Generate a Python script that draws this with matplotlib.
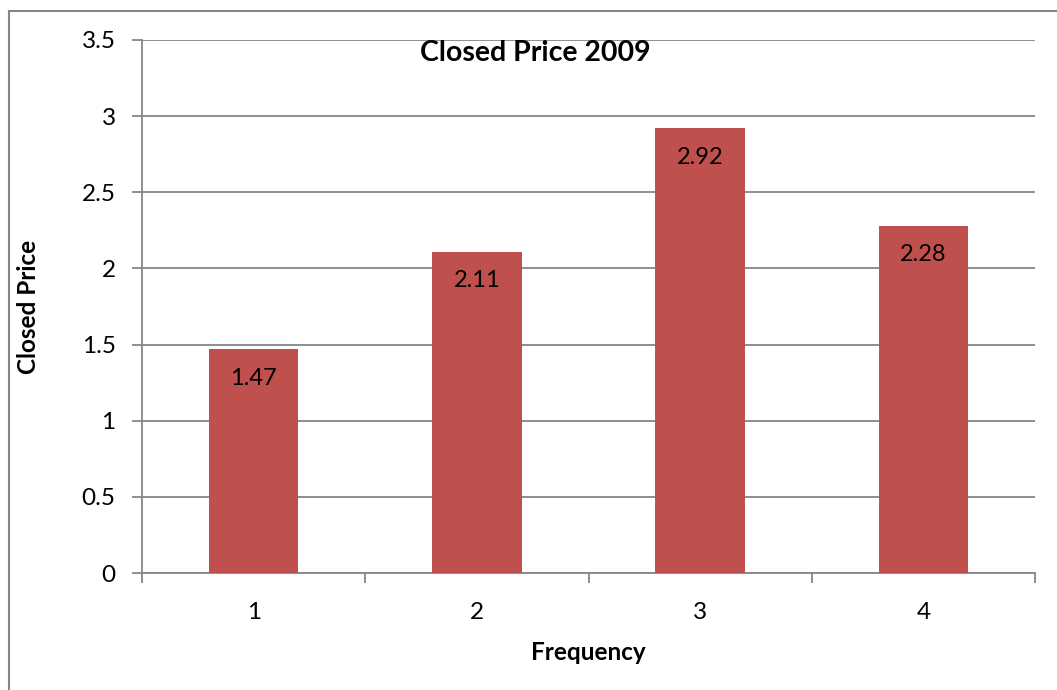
import numpy as np
import matplotlib.pyplot as plt
from matplotlib.lines import Line2D

categories = ["1", "2", "3", "4"]
prices = [1.47, 2.11, 2.92, 2.28]

bar_color = "#C0504D"
grid_color = "#868686"

plt.rcParams['font.family'] = ['Lato', 'DejaVu Sans']

fig = plt.figure(figsize=(10.57, 6.9), dpi=100)
W, H = 1057, 690
# plot area in pixels: left 142, right 1035, top 40, bottom 573
ax = fig.add_axes([142 / W, 1 - 573 / H, (1035 - 142) / W, (573 - 40) / H])

x = np.arange(len(categories))
ax.bar(x, prices, width=0.4, color=bar_color, zorder=3)
for xi, v in zip(x, prices):
    ax.annotate("%.2f" % v, (xi, v), xytext=(0, -21), textcoords="offset points",
                ha="center", va="center", fontsize=17, zorder=4)

ax.set_xlim(-0.5, len(categories) - 0.5)
ax.set_ylim(0, 3.5)
ax.set_yticks(np.arange(0, 3.51, 0.5))
ax.set_yticklabels(["0", "0.5", "1", "1.5", "2", "2.5", "3", "3.5"])
ax.yaxis.grid(True, color=grid_color, linewidth=1.3, zorder=0)

# category labels centered, ticks at boundaries
ax.set_xticks(x)
ax.set_xticklabels(categories)
ax.set_xticks(np.arange(-0.5, len(categories)), minor=True)
ax.tick_params(axis="x", which="major", length=0, pad=21, labelsize=17.5)
ax.tick_params(axis="x", which="minor", length=7, width=1.3, color=grid_color, direction="out")
ax.tick_params(axis="y", length=7, width=1.3, color=grid_color, pad=12, labelsize=17.5)

for side in ["top", "right"]:
    ax.spines[side].set_visible(False)
for side in ["left", "bottom"]:
    ax.spines[side].set_color(grid_color)
    ax.spines[side].set_linewidth(1.3)

ax.set_xlabel("Frequency", fontsize=17.5, fontweight="bold", labelpad=13)
ax.set_ylabel("Closed Price", fontsize=17.5, fontweight="bold", labelpad=30)

fig.text(535 / W, 1 - 53 / H, "Closed Price 2009", ha="center", va="center",
         fontsize=20.5, fontweight="bold")

# outer chart border (left and top edges visible)
fig.add_artist(Line2D([8.5 / W, 8.5 / W], [0, 1 - 10.5 / H], transform=fig.transFigure,
                      color=grid_color, linewidth=1.5))
fig.add_artist(Line2D([8.5 / W, 1], [1 - 10.5 / H, 1 - 10.5 / H], transform=fig.transFigure,
                      color=grid_color, linewidth=1.5))

fig.savefig("out.png", dpi=100)
